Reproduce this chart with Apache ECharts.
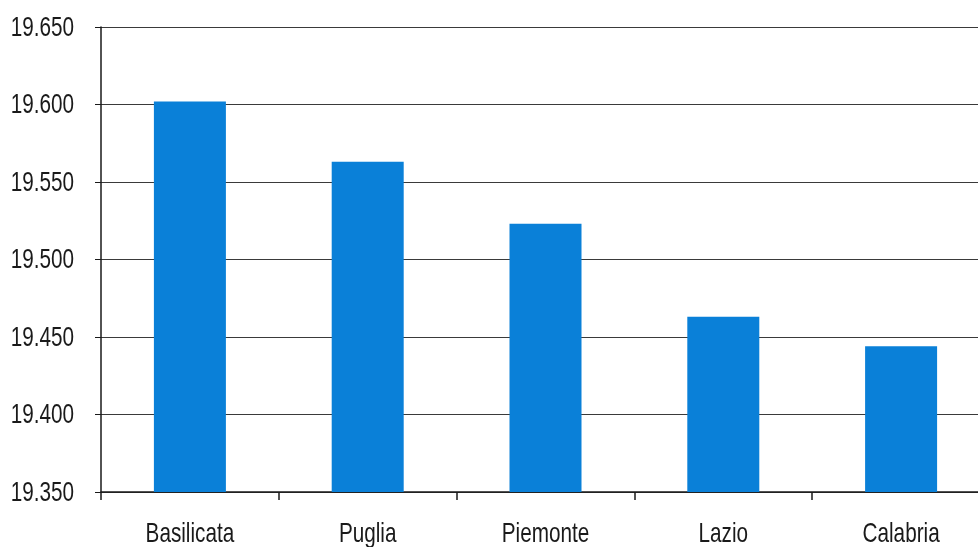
<!DOCTYPE html>
<html>
<head>
<meta charset="utf-8">
<script src="https://cdn.jsdelivr.net/npm/echarts@6/dist/echarts.min.js"></script>
<style>
  html, body { margin: 0; padding: 0; background: #ffffff; }
  #chart { width: 978px; height: 547px; }
</style>
</head>
<body>
<div id="chart"></div>
<script>
// Regions and their values
const regions = ['Basilicata', 'Puglia', 'Piemonte', 'Lazio', 'Calabria'];
const values = [19602, 19563, 19523, 19463, 19444];

// Value axis range and tick values
const yMin = 19350;
const yMax = 19650;
const yStep = 50;
const yTicks = [19350, 19400, 19450, 19500, 19550, 19600, 19650];

// Narrow sans look: regular sans squeezed horizontally
const labelFont = '28px "Liberation Sans", Arial, sans-serif';
const labelSqueeze = 0.74;
const inkColor = '#1a1a1a';

// Italian-style thousands separator: 19650 -> "19.650"
function formatIt(v) {
  return String(Math.round(v)).replace(/\B(?=(\d{3})+(?!\d))/g, '.');
}

const chart = echarts.init(document.getElementById('chart'), null, { renderer: 'canvas' });

chart.setOption({
  animation: false,
  backgroundColor: '#ffffff',
  grid: { left: 101, right: -12, top: 27, bottom: 55, containLabel: false, outerBoundsMode: 'none' },
  xAxis: {
    type: 'category',
    data: regions,
    boundaryGap: true,
    axisLine: { show: true, lineStyle: { color: inkColor, width: 1.5 } },
    axisTick: { show: true, alignWithLabel: false, length: 8, lineStyle: { color: inkColor, width: 1.5 } },
    axisLabel: { show: false }
  },
  yAxis: {
    type: 'value',
    min: yMin,
    max: yMax,
    interval: yStep,
    axisLine: { show: true, lineStyle: { color: inkColor, width: 1.5 } },
    axisTick: { show: true, length: 6, lineStyle: { color: inkColor, width: 1 } },
    splitLine: { show: true, lineStyle: { color: '#3a3a3a', width: 1 } },
    axisLabel: { show: false }
  },
  series: [{
    type: 'bar',
    data: values,
    barWidth: 72,
    itemStyle: { color: '#0a80d8' }
  }]
});

// Axis labels placed from the axes' own scales, drawn as condensed text
const labels = [];
const axisBottom = chart.convertToPixel({ yAxisIndex: 0 }, yMin);
const axisLeft = chart.convertToPixel({ xAxisIndex: 0 }, 0) -
  (chart.convertToPixel({ xAxisIndex: 0 }, 1) - chart.convertToPixel({ xAxisIndex: 0 }, 0)) / 2;

yTicks.forEach(function (v) {
  labels.push({
    type: 'text',
    x: axisLeft - 27,
    y: chart.convertToPixel({ yAxisIndex: 0 }, v) + 1,
    scaleX: labelSqueeze,
    silent: true,
    style: { text: formatIt(v), font: labelFont, fill: inkColor, align: 'right', verticalAlign: 'middle' }
  });
});

regions.forEach(function (name, i) {
  labels.push({
    type: 'text',
    x: chart.convertToPixel({ xAxisIndex: 0 }, i),
    y: axisBottom + 42,
    scaleX: labelSqueeze,
    silent: true,
    style: { text: name, font: labelFont, fill: inkColor, align: 'center', verticalAlign: 'middle' }
  });
});

chart.setOption({ graphic: labels });
</script>
</body>
</html>
